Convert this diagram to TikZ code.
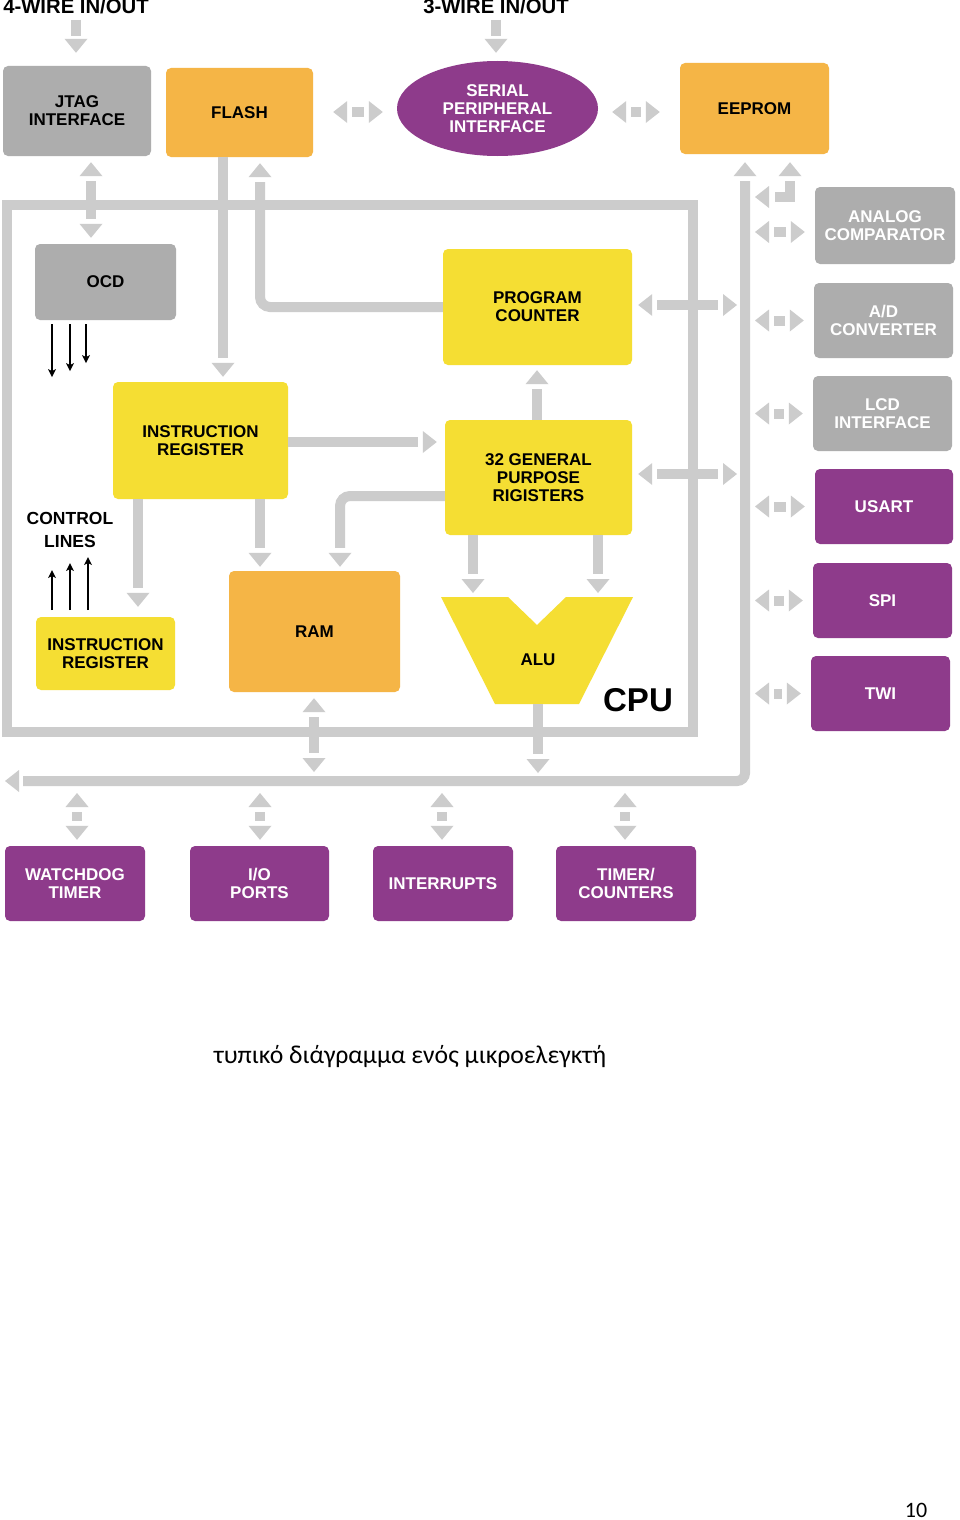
\documentclass[tikz,border=0pt]{standalone}
\usepackage{fontspec}
\setmainfont{Liberation Sans}
\newfontfamily\capfont{Carlito}
\usetikzlibrary{arrows.meta,shapes.geometric,calc}
\definecolor{conngray}{RGB}{204,204,204}
\definecolor{boxgray}{RGB}{173,173,173}
\definecolor{orng}{RGB}{245,181,70}
\definecolor{yel}{RGB}{245,222,51}
\definecolor{purp}{RGB}{142,59,139}
\tikzset{
  bh/.tip={Stealth[width=8pt,length=8pt,inset=2pt,line width=0pt]},
  box/.style={rounded corners=5pt, inner sep=0pt, align=center,
    font=\bfseries\fontsize{17}{18}\selectfont},
  graybox/.style={box, fill=boxgray, text=black},
  graywbox/.style={box, fill=boxgray, text=white},
  orbox/.style={box, fill=orng, text=black},
  yelbox/.style={box, fill=yel, text=black},
  purbox/.style={box, fill=purp, text=white},
  conn/.style={draw=conngray, line width=10pt},
  connhead/.style={fill=conngray},
  thinarrow/.style={draw=black, line width=1.5pt, -bh},
  toplabel/.style={inner sep=0pt, anchor=base, font=\bfseries\fontsize{20.3}{21}\selectfont},
}
% arrow heads (tip at the given point); y grows downward in this picture
\newcommand\headDown[1]{\fill[connhead] #1 -- ++(-11.5,-14) -- ++(23,0) -- cycle;}
\newcommand\headUp[1]{\fill[connhead] #1 -- ++(-11.5,14) -- ++(23,0) -- cycle;}
\newcommand\headLeft[1]{\fill[connhead] #1 -- ++(14,-11) -- ++(0,22) -- cycle;}
\newcommand\headRight[1]{\fill[connhead] #1 -- ++(-14,-11) -- ++(0,22) -- cycle;}
\begin{document}
\begin{tikzpicture}[x=1pt,y=-1pt]
\useasboundingbox[fill=white] (0,0) rectangle (960,1520);

% top labels
\node[toplabel] (w4) at (76,14) {4-WIRE IN/OUT};
\node[toplabel] (w3) at (496,14) {3-WIRE IN/OUT};

% top row
\node[graybox, minimum width=148pt, minimum height=90pt] (jtag) at (77,111) {JTAG\\INTERFACE};
\node[orbox, minimum width=147pt, minimum height=89pt] (flash) at (239.5,112.5) {FLASH};
\node[ellipse, fill=purp, text=white, inner sep=0pt, align=center,
  font=\bfseries\fontsize{17}{18}\selectfont,
  minimum width=201pt, minimum height=95pt] (serial) at (497.5,108.5) {SERIAL\\PERIPHERAL\\INTERFACE};
\node[orbox, minimum width=149pt, minimum height=91pt] (eeprom) at (754.5,108.5) {EEPROM};

% CPU frame
\draw[draw=conngray, line width=10pt] (7,205) rectangle (693,732);

% inside CPU
\node[graybox, minimum width=141pt, minimum height=76pt] (ocd) at (105.5,282) {OCD};
\node[yelbox, minimum width=189pt, minimum height=116pt] (pc) at (537.5,307) {PROGRAM\\COUNTER};
\node[yelbox, minimum width=175pt, minimum height=117pt] (ir1) at (200.5,440.5) {INSTRUCTION\\REGISTER};
\node[yelbox, minimum width=187pt, minimum height=115pt] (gp) at (538.5,477.5) {32 GENERAL\\PURPOSE\\RIGISTERS};
\node[yelbox, minimum width=139pt, minimum height=73pt] (ir2) at (105.5,653.5) {INSTRUCTION\\REGISTER};
\node[orbox, minimum width=171pt, minimum height=121pt] (ram) at (314.5,631.5) {RAM};
\node[inner sep=0pt, align=center, font=\bfseries\fontsize{17.5}{23}\selectfont] (ctl) at (70,530) {CONTROL\\LINES};

% ALU
\coordinate (aluTL) at (441,597);
\coordinate (aluB) at (537,704);
\fill[yel] (aluTL) -- (508,597) -- (537,625) -- (566,597) -- (633,597) -- (579,704) -- (495,704) -- cycle;
\node[inner sep=0pt, font=\bfseries\fontsize{17}{18}\selectfont] (alu) at (538,660) {ALU};
\node[inner sep=0pt, anchor=base, font=\bfseries\fontsize{33}{36}\selectfont] (cpu) at (638,711) {CPU};

% right peripherals
\node[graywbox, minimum width=140pt, minimum height=77pt] (analog) at (885,225.5) {ANALOG\\COMPARATOR};
\node[graywbox, minimum width=139pt, minimum height=75pt] (ad) at (883.5,320.5) {A/D\\CONVERTER};
\node[graywbox, minimum width=139pt, minimum height=75pt] (lcd) at (882.5,413.5) {LCD\\INTERFACE};
\node[purbox, minimum width=138pt, minimum height=75pt] (usart) at (884,506.5) {USART};
\node[purbox, minimum width=139pt, minimum height=75pt] (spi) at (882.5,600.5) {SPI};
\node[purbox, minimum width=139pt, minimum height=75pt] (twi) at (880.5,693.5) {TWI};

% bottom peripherals
\node[purbox, minimum width=140pt, minimum height=75pt] (wd) at (75,883.5) {WATCHDOG\\TIMER};
\node[purbox, minimum width=139pt, minimum height=75pt] (io) at (259.5,883.5) {I/O\\PORTS};
\node[purbox, minimum width=140pt, minimum height=75pt] (intr) at (443,883.5) {INTERRUPTS};
\node[purbox, minimum width=140pt, minimum height=75pt] (tmr) at (626,883.5) {TIMER/\\COUNTERS};

% bus coordinates
\coordinate (busCorner) at (745,781);
\coordinate (busEnd) at (5,781);

% ---- connectors ----
% inputs at the top
\draw[conn] ($(w4.south)+(0,5)$) -- ($(w4.south |- jtag.north)+(0,-30)$);
\headDown{($(w4.south |- jtag.north)+(0,-13)$)}
\draw[conn] ($(w3.south)+(0,5)$) -- ($(w3.south |- serial.north)+(0,-25)$);
\headDown{($(w3.south |- serial.north)+(0,-8)$)}

% flash <-> serial <-> eeprom
\headLeft{($(flash.east |- 0,112)+(20,0)$)}
\draw[conn] ($(flash.east |- 0,112)+(39,0)$) -- ($(serial.west |- 0,112)+(-33,0)$);
\headRight{($(serial.west |- 0,112)+(-14,0)$)}
\headLeft{($(serial.east |- 0,112)+(14,0)$)}
\draw[conn] ($(serial.east |- 0,112)+(33,0)$) -- ($(eeprom.west |- 0,112)+(-39,0)$);
\headRight{($(eeprom.west |- 0,112)+(-20,0)$)}

% main bus
\headUp{($(745,0 |- eeprom.south)+(0,8)$)}
\draw[conn, rounded corners=8pt] ($(745,0 |- eeprom.south)+(0,27)$) -- (busCorner) -- ($(busEnd)+(18,0)$);
\headLeft{(busEnd)}
% hook under eeprom
\headUp{($(790,0 |- eeprom.south)+(0,8)$)}
\draw[conn] ($(790,0 |- eeprom.south)+(0,27)$) -- (790,197) -- ($(busCorner |- 0,197)+(30,0)$);
\headLeft{($(busCorner |- 0,197)+(10,0)$)}

% JTAG <-> OCD
\headUp{($(91,0 |- jtag.south)+(0,6)$)}
\draw[conn] ($(91,0 |- jtag.south)+(0,25)$) -- ($(91,0 |- ocd.north)+(0,-25)$);
\headDown{($(91,0 |- ocd.north)+(0,-6)$)}

% FLASH -> IR
\draw[conn] (223,0 |- flash.south) -- ($(223,0 |- ir1.north)+(0,-24)$);
\headDown{($(223,0 |- ir1.north)+(0,-5)$)}
% PC -> FLASH
\draw[conn, rounded corners=10pt] (pc.west |- 0,307) -- (260,307) -- ($(260,0 |- flash.south)+(0,25)$);
\headUp{($(260,0 |- flash.south)+(0,6)$)}
% IR -> GP
\draw[conn] (ir1.east |- 0,442) -- ($(gp.west |- 0,442)+(-27,0)$);
\headRight{($(gp.west |- 0,442)+(-8,0)$)}
% GP -> PC
\draw[conn] (537,0 |- gp.north) -- ($(537,0 |- pc.south)+(0,24)$);
\headUp{($(537,0 |- pc.south)+(0,5)$)}
% GP -> RAM
\draw[conn, rounded corners=10pt] (gp.west |- 0,496) -- (340,496) -- ($(340,0 |- ram.north)+(0,-23)$);
\headDown{($(340,0 |- ram.north)+(0,-4)$)}
% IR -> RAM
\draw[conn] (260,0 |- ir1.south) -- ($(260,0 |- ram.north)+(0,-23)$);
\headDown{($(260,0 |- ram.north)+(0,-4)$)}
% IR -> IR2
\draw[conn] (138,0 |- ir1.south) -- ($(138,0 |- ir2.north)+(0,-29)$);
\headDown{($(138,0 |- ir2.north)+(0,-10)$)}
% GP -> ALU
\draw[conn] (473,0 |- gp.south) -- ($(473,0 |- aluTL)+(0,-23)$);
\headDown{($(473,0 |- aluTL)+(0,-4)$)}
\draw[conn] (598,0 |- gp.south) -- ($(598,0 |- aluTL)+(0,-23)$);
\headDown{($(598,0 |- aluTL)+(0,-4)$)}
% ALU -> bus
\draw[conn] (538,0 |- aluB) -- ($(538,0 |- busCorner)+(0,-27)$);
\headDown{($(538,0 |- busCorner)+(0,-8)$)}
% RAM <-> bus
\headUp{($(314,0 |- ram.south)+(0,6)$)}
\draw[conn] ($(314,0 |- ram.south)+(0,25)$) -- ($(314,0 |- busCorner)+(0,-28)$);
\headDown{($(314,0 |- busCorner)+(0,-9)$)}
% PC <-> bus, GP <-> bus
\headLeft{($(pc.east |- 0,305)+(6,0)$)}
\draw[conn] ($(pc.east |- 0,305)+(25,0)$) -- ($(busCorner |- 0,305)+(-27,0)$);
\headRight{($(busCorner |- 0,305)+(-8,0)$)}
\headLeft{($(gp.east |- 0,474)+(6,0)$)}
\draw[conn] ($(gp.east |- 0,474)+(25,0)$) -- ($(busCorner |- 0,474)+(-27,0)$);
\headRight{($(busCorner |- 0,474)+(-8,0)$)}

% right peripheral links
\headLeft{($(busCorner |- 0,232)+(10,0)$)}
\draw[conn] ($(busCorner |- 0,232)+(29,0)$) -- ($(analog.west |- 0,232)+(-29,0)$);
\headRight{($(analog.west |- 0,232)+(-10,0)$)}
\foreach \n in {ad,lcd,usart,spi,twi}{
  \headLeft{($(busCorner |- \n.west)+(10,0)$)}
  \draw[conn] ($(busCorner |- \n.west)+(29,0)$) -- ($(\n.west)+(-29,0)$);
  \headRight{($(\n.west)+(-10,0)$)}
}
% bottom peripheral links
\foreach \n/\xx in {wd/77,io/260,intr/442,tmr/625}{
  \headUp{($(\xx,0 |- busCorner)+(0,12)$)}
  \draw[conn] ($(\xx,0 |- busCorner)+(0,31)$) -- ($(\xx,0 |- \n.north)+(0,-25)$);
  \headDown{($(\xx,0 |- \n.north)+(0,-6)$)}
}

% black thin arrows
\draw[thinarrow] ($(52,0 |- ocd.south)+(0,4)$) -- (52,377);
\draw[thinarrow] ($(70,0 |- ocd.south)+(0,4)$) -- (70,371);
\draw[thinarrow] ($(86,0 |- ocd.south)+(0,4)$) -- (86,363);
\draw[thinarrow] (52,610) -- (52,570);
\draw[thinarrow] (70,610) -- (70,563);
\draw[thinarrow] (88,610) -- (88,557);

% caption and page number
\node[inner sep=0pt, font=\capfont\fontsize{25.7}{30}\selectfont] (cap) at (410,1057) {τυπικό διάγραμμα ενός μικροελεγκτή};
\node[inner sep=0pt, anchor=base, font=\capfont\fontsize{22}{26}\selectfont] (pg) at (916,1517) {10};
\end{tikzpicture}
\end{document}
